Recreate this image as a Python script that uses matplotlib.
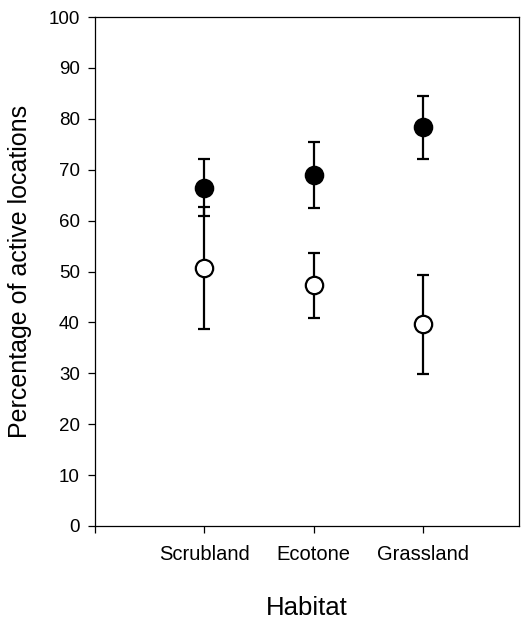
import matplotlib.pyplot as plt

# dados
habitats = ["Scrubland", "Ecotone", "Grassland"]
x_pos = [1, 2, 3]
ativos_cheio = [66.5, 69.0, 78.3]
erro_cheio = [5.6, 6.5, 6.2]
ativos_vazio = [50.7, 47.3, 39.6]
erro_vazio = [11.9, 6.4, 9.7]

plt.rcParams["font.family"] = ["Liberation Sans", "DejaVu Sans"]

fig = plt.figure(figsize=(5.21, 6.19), dpi=100)
ax = fig.add_axes([95 / 521, 1 - 526 / 619, (519 - 95) / 521, (526 - 17) / 619])

estilo = dict(fmt="o", color="black", ecolor="black", elinewidth=1.6,
              capsize=4.5, capthick=1.6, markersize=12.5, markeredgewidth=1.6)
ax.errorbar(x_pos, ativos_cheio, yerr=erro_cheio, markerfacecolor="black",
            zorder=3, **estilo)
ax.errorbar(x_pos, ativos_vazio, yerr=erro_vazio, markerfacecolor="white",
            zorder=3, **estilo)

ax.set_xlim(0, 3.88)
ax.set_ylim(0, 100)
ax.set_xticks([0] + x_pos)
ax.set_xticklabels([""] + habitats)
ax.set_yticks(range(0, 101, 10))

ax.tick_params(axis="both", direction="out", length=5, width=0.9,
               labelsize=13.5, pad=6)
ax.tick_params(axis="x", pad=9, labelsize=14.5)
for s in ax.spines.values():
    s.set_linewidth(0.9)

ax.set_xlabel("Habitat", fontsize=18.5, labelpad=23)
ax.set_ylabel("Percentage of active locations", fontsize=18, labelpad=12)

fig.savefig("out.png", dpi=100)
plt.close()
